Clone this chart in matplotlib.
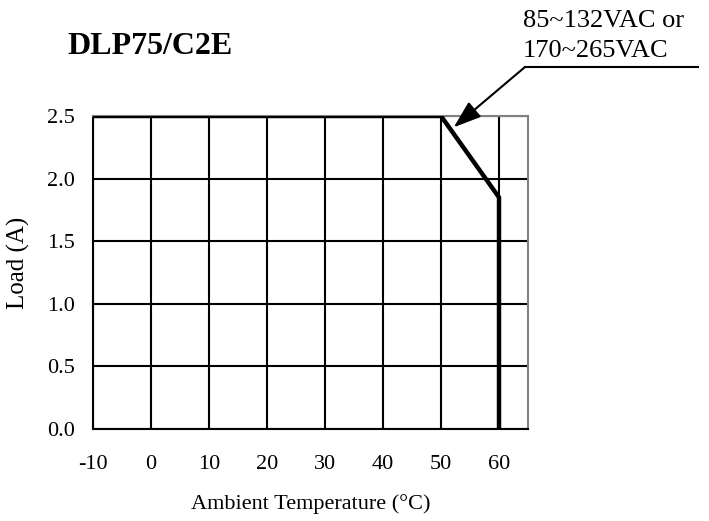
import matplotlib
matplotlib.use('Agg')
import matplotlib.pyplot as plt
from matplotlib.lines import Line2D

# データ
temp = [-10, 50, 60, 60]
load = [2.5, 2.5, 1.85, 0.0]
xticks = [-10, 0, 10, 20, 30, 40, 50, 60]
yticks = [0.0, 0.5, 1.0, 1.5, 2.0, 2.5]
title = 'DLP75/C2E'
note = '85~132VAC or\n170~265VAC'
arrow_tip = (52.2, 2.41)

plt.rcParams['font.family'] = ['Liberation Serif', 'DejaVu Serif']

W, H = 709, 521
fig = plt.figure(figsize=(W / 100, H / 100), dpi=100)
ax = fig.add_axes([93 / W, 1 - 429 / H, (528 - 93) / W, (429 - 116) / H])

# グリッド線
for x in xticks:
    ax.axvline(x, color='black', lw=1.5, zorder=2)
for y in yticks:
    ax.axhline(y, color='black', lw=1.5, zorder=2)

ax.plot(temp, load, color='black', lw=3.2, solid_joinstyle='miter', zorder=4)

ax.set_xlim(-10, 65)
ax.set_ylim(0, 2.5)
ax.set_xticks(xticks)
ax.set_yticks(yticks)
ax.set_xticklabels([str(v) for v in xticks])
ax.set_yticklabels([f'{v:.1f}' for v in yticks])
ax.tick_params(length=0, labelsize=16)
ax.tick_params(axis='y', pad=13)
ax.tick_params(axis='x', pad=19)

for side in ['top', 'right']:
    ax.spines[side].set_color('#808080')
    ax.spines[side].set_linewidth(1.5)
for side in ['left', 'bottom']:
    ax.spines[side].set_color('black')
    ax.spines[side].set_linewidth(1.5)

ax.set_xlabel('Ambient Temperature (°C)', fontsize=16, labelpad=14)
ax.set_ylabel('Load (A)', fontsize=18)
ax.yaxis.set_label_coords(-0.145, 0.53)

fig.text(150 / W, 1 - 46 / H, title, fontsize=23, fontweight='bold',
         ha='center', va='center')

# 注記と矢印
fig.text(523 / W, 1 - 10 / H, note, fontsize=19, ha='left', va='top',
         linespacing=1.45)
fig.add_artist(Line2D([525 / W, 698 / W], [1 - 67 / H, 1 - 67 / H],
                      color='black', lw=1.5, transform=fig.transFigure))
ax.annotate('', xy=arrow_tip, xycoords='data',
            xytext=(525 / W, 1 - 67 / H), textcoords='figure fraction',
            arrowprops=dict(arrowstyle='-|>,head_length=1.0,head_width=0.35',
                            mutation_scale=17, color='black', lw=1.5,
                            shrinkA=0, shrinkB=0),
            annotation_clip=False, zorder=5)

fig.savefig('out.png', dpi=100)
